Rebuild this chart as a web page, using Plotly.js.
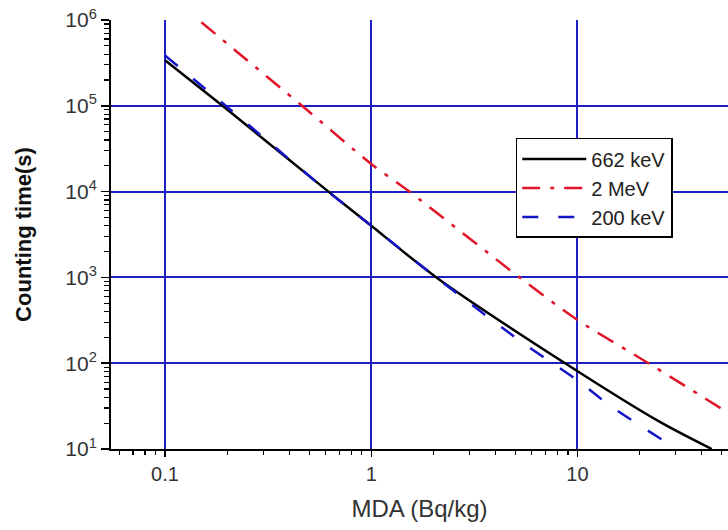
<!DOCTYPE html>
<html>
<head>
<meta charset="utf-8">
<script src="https://cdn.plot.ly/plotly-3.0.1.min.js"></script>
<style>html,body{margin:0;padding:0;background:#fff;}#chart{width:728px;height:530px;}</style>
</head>
<body>
<div id="chart"></div>
<script>
// Series names
const seriesNames = ["662 keV", "2 MeV", "200 keV"];

// 662 keV (black solid)
const kev662_x = [0.1, 0.19, 0.62, 1, 2.07, 8.71, 25.1, 44.8];
const kev662_y = [3.4e5, 1e5, 1e4, 4.0e3, 1e3, 100, 20.7, 10];

// 2 MeV (red dash-dot)
const mev2_x = [0.15, 0.462, 1, 1.53, 5.24, 10, 22.1, 50.7];
const mev2_y = [9.4e5, 1e5, 2.1e4, 1e4, 1e3, 319, 100, 28.8];

// 200 keV (blue dashed)
const kev200_x = [0.1, 0.197, 0.617, 1, 2.065, 5.42, 7.57, 10, 14.3, 30.3];
const kev200_y = [3.85e5, 1e5, 1e4, 4.0e3, 1e3, 173, 100, 63.1, 32.4, 10];

// Tick labels
const xTickVals = [0.1, 1, 10];
const xTickText = ["0.1", "1", "10"];
const yTickVals = [1e1, 1e2, 1e3, 1e4, 1e5, 1e6];
const yTickText = ["10<sup>1</sup>", "10<sup>2</sup>", "10<sup>3</sup>", "10<sup>4</sup>", "10<sup>5</sup>", "10<sup>6</sup>"];

// minor tick positions (2..9 in each decade)
function minorTicks(lo, hi) {
  const out = [];
  for (let e = lo; e <= hi; e++) {
    for (let d = 2; d <= 9; d++) out.push(d * Math.pow(10, e));
  }
  return out;
}

const gridBlue = "rgb(30,30,195)";
const font = "Arial, 'Liberation Sans', sans-serif";

const traces = [
  {x: kev662_x, y: kev662_y, name: seriesNames[0], mode: "lines",
   line: {color: "#000000", width: 2.5, shape: "spline", smoothing: 0.8}},
  {x: mev2_x, y: mev2_y, name: seriesNames[1], mode: "lines",
   line: {color: "rgb(225,20,40)", width: 2.5, dash: "18px,10px,4px,10px", shape: "spline", smoothing: 0.8}},
  {x: kev200_x, y: kev200_y, name: seriesNames[2], mode: "lines",
   line: {color: "rgb(20,20,200)", width: 2.5, dash: "16px,20px", shape: "spline", smoothing: 0.8}}
];

const layout = {
  width: 728, height: 530,
  margin: {l: 111, r: 0, t: 20, b: 81},
  paper_bgcolor: "#ffffff", plot_bgcolor: "#ffffff",
  showlegend: true,
  font: {family: font, color: "#333"},
  xaxis: {
    type: "log", range: [-1.262, 1.730],
    tickmode: "array", tickvals: xTickVals, ticktext: xTickText,
    ticks: "outside", ticklen: 6, tickwidth: 1.5, tickcolor: "#000",
    showline: true, linecolor: "#000", linewidth: 2, mirror: false,
    showgrid: true, gridcolor: gridBlue, gridwidth: 2, zeroline: false,
    tickfont: {family: font, size: 20, color: "#333"},
    minor: {tickmode: "array", tickvals: minorTicks(-2, 1), ticks: "outside", ticklen: 4, tickwidth: 1.2, tickcolor: "#000", showgrid: false},
    title: {text: "MDA (Bq/kg)", font: {family: font, size: 24, color: "#333"}, standoff: 16},
    automargin: false
  },
  yaxis: {
    type: "log", range: [1, 6],
    tickmode: "array", tickvals: yTickVals, ticktext: yTickText,
    ticks: "outside", ticklen: 8, tickwidth: 1.5, tickcolor: "#000",
    showline: true, linecolor: "#000", linewidth: 2, mirror: false,
    showgrid: true, gridcolor: gridBlue, gridwidth: 2, zeroline: false,
    tickfont: {family: font, size: 21, color: "#333"},
    minor: {tickmode: "array", tickvals: minorTicks(1, 5), ticks: "outside", ticklen: 5, tickwidth: 1.2, tickcolor: "#000", showgrid: false},
    title: {text: "Counting time(s)", font: {family: font, size: 22, color: "#111", weight: "bold"}, standoff: 28},
    automargin: false
  },
  legend: {
    x: 0.656, y: 0.725, xanchor: "left", yanchor: "top",
    bgcolor: "#ffffff", bordercolor: "#000", borderwidth: 1.5,
    font: {family: font, size: 20, color: "#222"},
    itemwidth: 64,
    tracegroupgap: 0
  }
};

Plotly.newPlot("chart", traces, layout, {displayModeBar: false, staticPlot: true});
</script>
</body>
</html>
